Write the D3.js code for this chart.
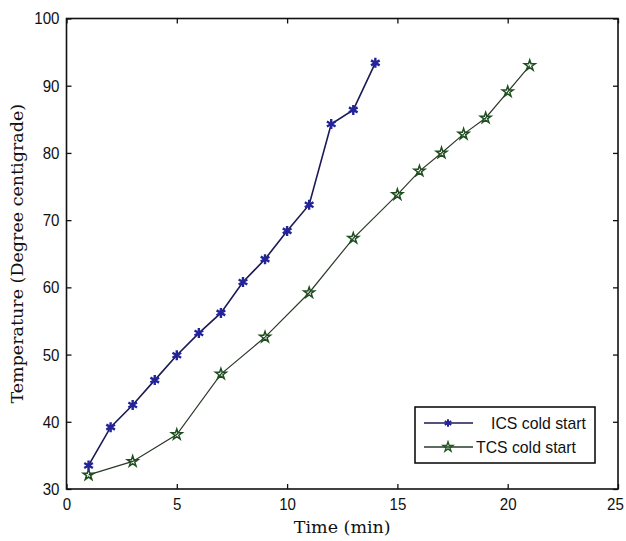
<!DOCTYPE html>
<html lang="en">
<head>
  <meta charset="UTF-8">
  <title>Temperature vs time, cold start</title>
  <style>
    body { margin: 0; background: #fff; }
    svg text { fill: #111; }
    .tick-label { font-family: "Liberation Sans", Arial, sans-serif; font-size: 17px; }
    .axis-title { font-family: "DejaVu Serif", "Liberation Serif", serif; font-size: 17.5px; }
    .legend-text { font-family: "Liberation Sans", Arial, sans-serif; font-size: 17px; }
  </style>
</head>
<body>
  <div id="chart"></div>

  <script src="https://d3js.org/d3.v7.min.js"></script>
  <script>
    // data
    const icsTime = [1, 2, 3, 4, 5, 6, 7, 8, 9, 10, 11, 12, 13, 14];
    const icsTemp = [33.5, 39.2, 42.5, 46.2, 49.9, 53.2, 56.2, 60.8, 64.2, 68.4, 72.3, 84.3, 86.4, 93.4];
    const tcsTime = [1, 3, 5, 7, 9, 11, 13, 15, 16, 17, 18, 19, 20, 21];
    const tcsTemp = [32.1, 34.1, 38.1, 47.1, 52.6, 59.2, 67.3, 73.8, 77.3, 80.0, 82.8, 85.2, 89.1, 93.0];
    const xTicks = [0, 5, 10, 15, 20, 25];
    const yTicks = [30, 40, 50, 60, 70, 80, 90, 100];
    const seriesNames = ["ICS cold start", "TCS cold start"];

    const width = 626, height = 541;
    const margin = { top: 18.5, right: 8, bottom: 52, left: 66.5 };
    const innerW = width - margin.left - margin.right;
    const innerH = height - margin.top - margin.bottom;

    const svg = d3.select("#chart").append("svg")
      .attr("width", width)
      .attr("height", height);

    const g = svg.append("g")
      .attr("transform", `translate(${margin.left},${margin.top})`);

    const x = d3.scaleLinear().domain([0, 25]).range([0, innerW]);
    const y = d3.scaleLinear().domain([30, 100]).range([innerH, 0]);

    // axes with inward ticks on all four sides (matlab style)
    const styleAxis = sel => {
      sel.select(".domain").remove();
      sel.selectAll(".tick line").attr("stroke", "#111").attr("stroke-width", 1.3);
    };
    // the reference digits are narrow, squeeze them a bit
    const narrow = sel => sel
      .attr("class", "tick-label")
      .attr("fill", "#111")
      .attr("textLength", d => String(d).length * 8.4)
      .attr("lengthAdjust", "spacingAndGlyphs");

    g.append("g")
      .attr("transform", `translate(0,${innerH})`)
      .call(d3.axisBottom(x).tickValues(xTicks).tickSizeInner(-5).tickSizeOuter(0).tickPadding(9))
      .call(styleAxis)
      .selectAll("text").call(narrow)
      .attr("dx", d => d === 25 ? -3 : 0);   // keep last label inside the page

    g.append("g")
      .call(d3.axisTop(x).tickValues(xTicks).tickSizeInner(-5).tickSizeOuter(0).tickFormat(""))
      .call(styleAxis);

    g.append("g")
      .call(d3.axisLeft(y).tickValues(yTicks).tickSizeInner(-5).tickSizeOuter(0).tickPadding(7))
      .call(styleAxis)
      .selectAll("text").call(narrow);

    g.append("g")
      .attr("transform", `translate(${innerW},0)`)
      .call(d3.axisRight(y).tickValues(yTicks).tickSizeInner(-5).tickSizeOuter(0).tickFormat(""))
      .call(styleAxis);

    // frame
    g.append("rect")
      .attr("width", innerW)
      .attr("height", innerH)
      .attr("fill", "none")
      .attr("stroke", "#111")
      .attr("stroke-width", 1.6);

    const line = d3.line().x(d => x(d[0])).y(d => y(d[1]));

    const ics = icsTime.map((t, i) => [t, icsTemp[i]]);
    const tcs = tcsTime.map((t, i) => [t, tcsTemp[i]]);

    const starPath = d3.symbol().type(d3.symbolStar).size(36)();
    const asteriskPath = d3.symbol().type(d3.symbolAsterisk).size(70)();

    // TCS series
    g.append("path")
      .datum(tcs)
      .attr("d", line)
      .attr("fill", "none")
      .attr("stroke", "#2b3a2b")
      .attr("stroke-width", 1.2);

    g.selectAll(".tcs-pt")
      .data(tcs)
      .enter()
      .append("path")
      .attr("class", "tcs-pt")
      .attr("transform", d => `translate(${x(d[0])},${y(d[1])})`)
      .attr("d", starPath)
      .attr("fill", "none")
      .attr("stroke", "#1e4f1e")
      .attr("stroke-width", 1.5);

    // ICS series
    g.append("path")
      .datum(ics)
      .attr("d", line)
      .attr("fill", "none")
      .attr("stroke", "#1a1a55")
      .attr("stroke-width", 1.6);

    g.selectAll(".ics-pt")
      .data(ics)
      .enter()
      .append("path")
      .attr("class", "ics-pt")
      .attr("transform", d => `translate(${x(d[0])},${y(d[1])})`)
      .attr("d", asteriskPath)
      .attr("fill", "none")
      .attr("stroke", "#23239a")
      .attr("stroke-width", 2.4);

    // axis titles
    svg.append("text")
      .attr("class", "axis-title")
      .attr("x", margin.left + x(12.5))
      .attr("y", 533)
      .attr("text-anchor", "middle")
      .text("Time (min)");

    svg.append("text")
      .attr("class", "axis-title")
      .attr("transform", `translate(23,${margin.top + innerH / 2}) rotate(-90)`)
      .attr("text-anchor", "middle")
      .text("Temperature (Degree centigrade)");

    // legend
    const lg = svg.append("g").attr("transform", "translate(415,407)");
    lg.append("rect")
      .attr("width", 180)
      .attr("height", 56)
      .attr("fill", "#fff")
      .attr("stroke", "#111")
      .attr("stroke-width", 1.6);

    const legendRows = [
      { name: seriesNames[0], line: "#1a1a55", mark: d3.symbol().type(d3.symbolAsterisk).size(40)(), stroke: "#23239a", sw: 2, ty: 16, anchor: "end", tx: 171, len: 95 },
      { name: seriesNames[1], line: "#2b3a2b", mark: d3.symbol().type(d3.symbolStar).size(30)(), stroke: "#1e5a1e", sw: 1.4, ty: 40, anchor: "start", tx: 61, len: 100 }
    ];

    legendRows.forEach(r => {
      lg.append("line")
        .attr("x1", 9).attr("x2", 58)
        .attr("y1", r.ty).attr("y2", r.ty)
        .attr("stroke", r.line).attr("stroke-width", 1.4);
      lg.append("path")
        .attr("transform", `translate(33,${r.ty})`)
        .attr("d", r.mark)
        .attr("fill", "none")
        .attr("stroke", r.stroke)
        .attr("stroke-width", r.sw);
      lg.append("text")
        .attr("class", "legend-text")
        .attr("x", r.tx)
        .attr("y", r.ty + 6)
        .attr("text-anchor", r.anchor)
        .attr("textLength", r.len)
        .attr("lengthAdjust", "spacingAndGlyphs")
        .text(r.name);
    });
  </script>
</body>
</html>
